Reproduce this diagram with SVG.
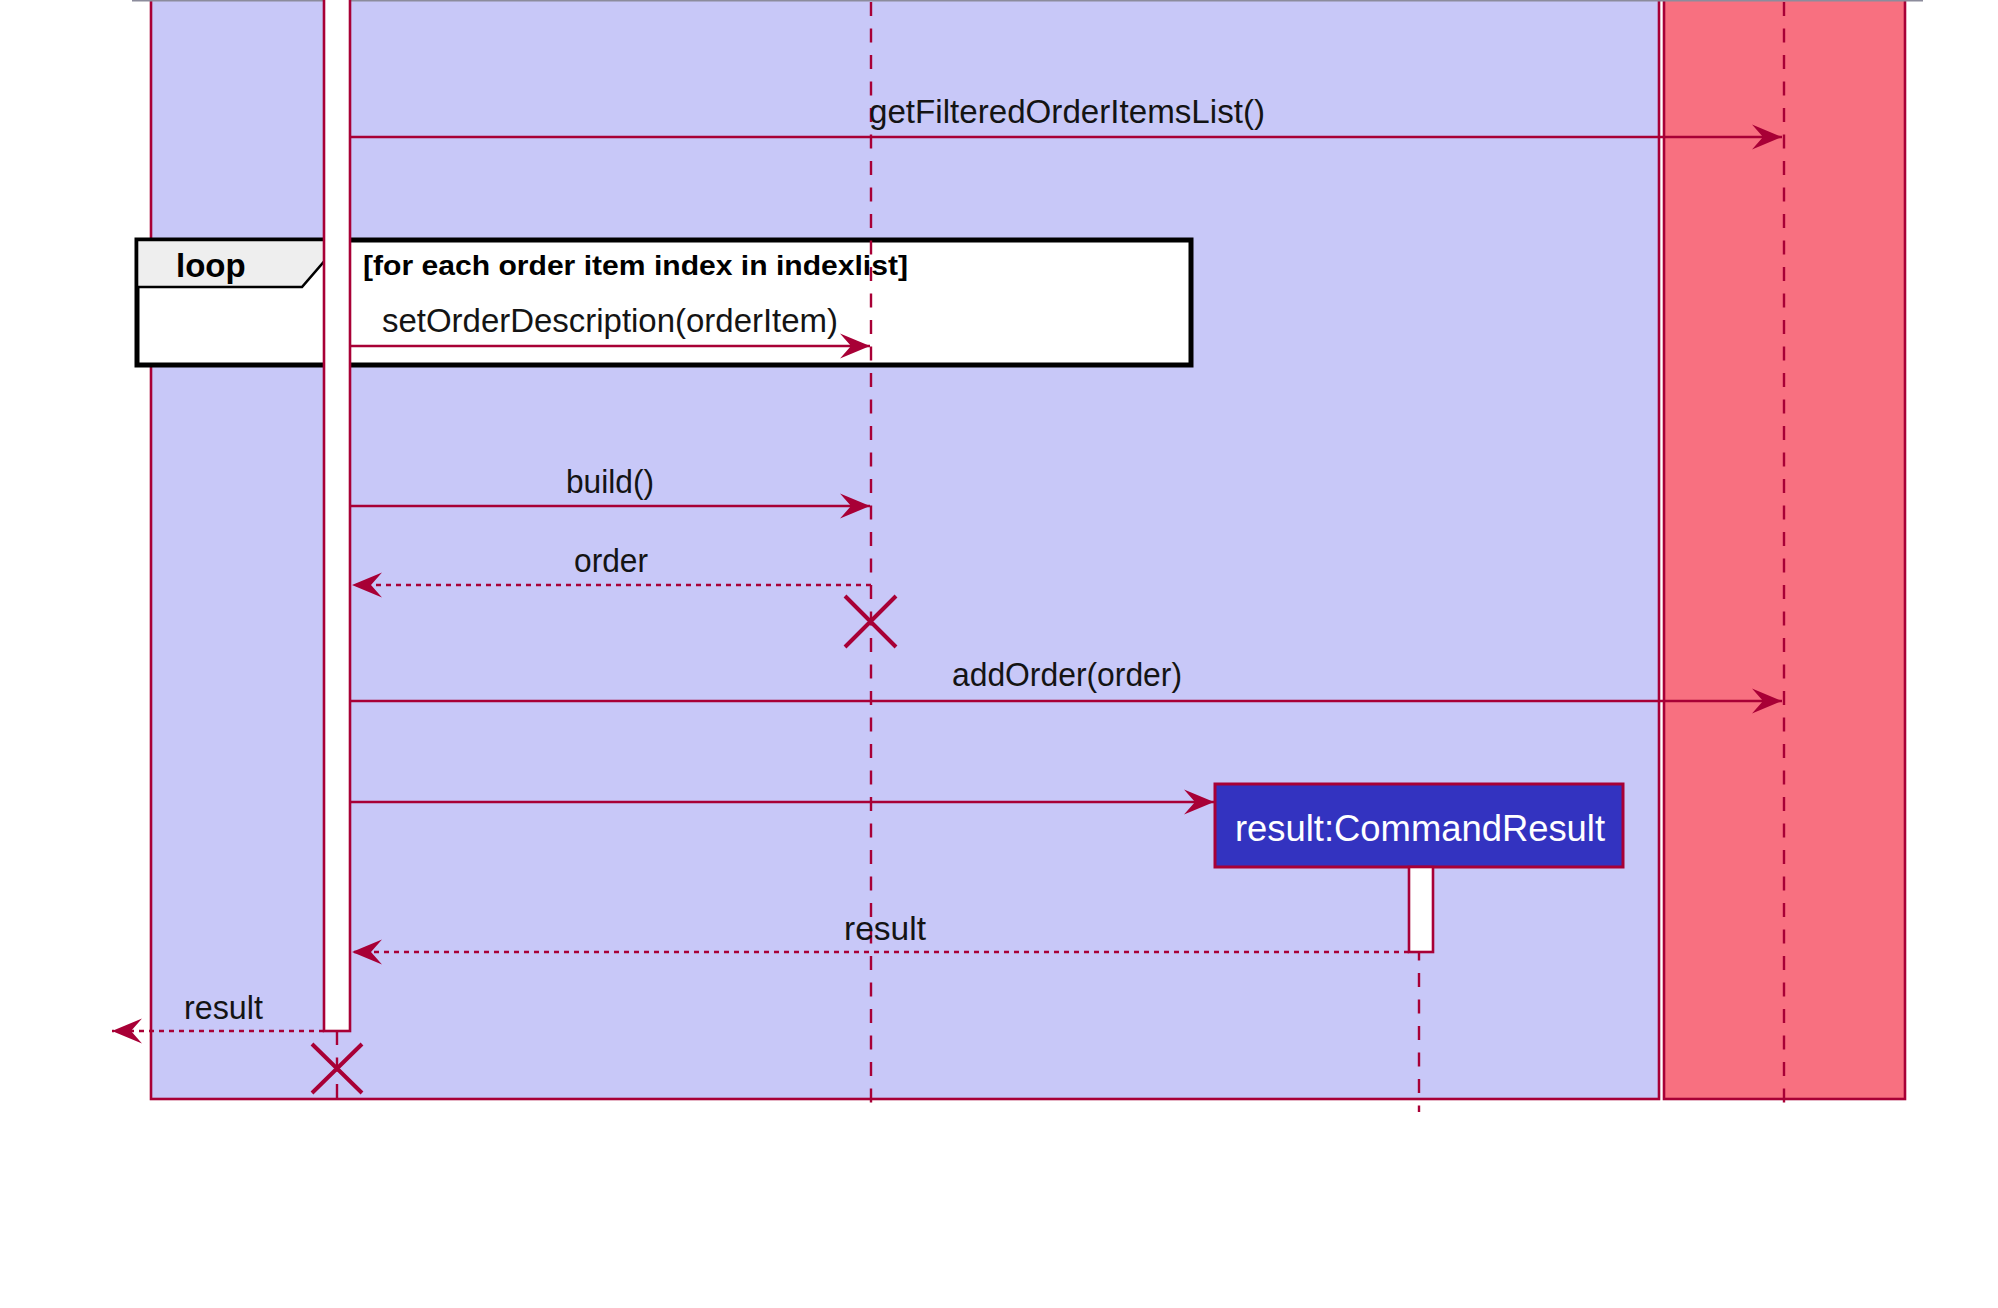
<svg xmlns="http://www.w3.org/2000/svg" width="1998" height="1308" viewBox="0 0 1998 1308">
  <style>
    .msg { font-family: "Liberation Sans", Arial, sans-serif; font-size: 33px; fill: #141414; }
    .bold { font-family: "Liberation Sans", Arial, sans-serif; font-weight: bold; fill: #000; }
    .call { stroke: #A80036; stroke-width: 2.6; fill: none; }
    .ret { stroke: #A80036; stroke-width: 2.6; fill: none; stroke-dasharray: 5 5; }
    .life { stroke: #A80036; stroke-width: 2.4; fill: none; stroke-dasharray: 14 12.5; }
    .act { fill: #FFFFFF; stroke: #A80036; stroke-width: 2.6; }
    .kill { stroke: #A80036; stroke-width: 4; fill: none; }
  </style>
  <defs>
    <marker id="head" markerUnits="userSpaceOnUse" viewBox="-32 -14 34 28" markerWidth="34" markerHeight="28" refX="0" refY="0" orient="auto">
      <path d="M0,0 L-30,-12.5 L-19,0 L-30,12.5 Z" fill="#A80036"/>
    </marker>
  </defs>

  <rect width="1998" height="1308" fill="#FFFFFF"/>

  <!-- grouping boxes -->
  <g id="box-logic">
    <rect x="151" y="-10" width="1508" height="1109" fill="#C8C8F8" stroke="#A80036" stroke-width="2.6"/>
  </g>
  <g id="box-model">
    <rect x="1664" y="-10" width="241" height="1109" fill="#F87080" stroke="#A80036" stroke-width="2.6"/>
  </g>
  <line x1="132" y1="0.5" x2="1923" y2="0.5" stroke="#8C8C9C" stroke-width="2"/>

  <!-- loop fragment -->
  <g id="loop-frame">
    <rect x="137" y="240" width="1054" height="125" fill="#FFFFFF" stroke="#000000" stroke-width="5"/>
    <polygon points="137,240 327,240 327,258 302,287 137,287" fill="#EEEEEE" stroke="#000000" stroke-width="2.6"/>
    <text class="bold" x="176" y="277" font-size="33">loop</text>
    <text class="bold" x="363" y="275" font-size="28" textLength="545" lengthAdjust="spacingAndGlyphs">[for each order item index in indexlist]</text>
  </g>

  <!-- lifelines -->
  <g id="lifelines">
    <line class="life" x1="337" y1="1031" x2="337" y2="1106"/>
    <line class="life" x1="871" y1="2" x2="871" y2="1106"/>
    <line class="life" x1="1419" y1="867" x2="1419" y2="1112"/>
    <line class="life" x1="1784" y1="2" x2="1784" y2="1106"/>
  </g>

  <!-- command participant (activation) -->
  <g id="command">
    <rect class="act" x="324" y="-10" width="26" height="1041"/>
  </g>

  <!-- result:CommandResult participant -->
  <g id="result">
    <rect x="1215" y="784" width="408" height="83" fill="#3333C0" stroke="#A80036" stroke-width="3"/>
    <text x="1235" y="841" textLength="370" lengthAdjust="spacingAndGlyphs" font-family="Liberation Sans, Arial, sans-serif" font-size="36" fill="#FFFFFF">result:CommandResult</text>
    <rect class="act" x="1409" y="867" width="24" height="85"/>
  </g>

  <!-- destruction marks -->
  <g id="order-builder-end">
    <path class="kill" d="M845,596 L896,647 M896,596 L845,647"/>
  </g>
  <g id="command-end">
    <path class="kill" d="M312,1044 L362,1093 M362,1044 L312,1093"/>
  </g>

  <!-- messages -->
  <g id="connectors">
    <line class="call" x1="350" y1="137" x2="1782" y2="137" marker-end="url(#head)"/>
    <line class="call" x1="350" y1="346" x2="870" y2="346" marker-end="url(#head)"/>
    <line class="call" x1="350" y1="506" x2="870" y2="506" marker-end="url(#head)"/>
    <line class="ret" x1="871" y1="585" x2="352" y2="585" marker-end="url(#head)"/>
    <line class="call" x1="350" y1="701" x2="1782" y2="701" marker-end="url(#head)"/>
    <line class="call" x1="350" y1="802" x2="1214" y2="802" marker-end="url(#head)"/>
    <line class="ret" x1="1409" y1="952" x2="352" y2="952" marker-end="url(#head)"/>
    <line class="ret" x1="324" y1="1031" x2="112" y2="1031" marker-end="url(#head)"/>
  </g>

  <!-- message labels -->
  <g id="labels">
    <text class="msg" x="869" y="123" textLength="396" lengthAdjust="spacingAndGlyphs">getFilteredOrderItemsList()</text>
    <text class="msg" x="382" y="332" textLength="456" lengthAdjust="spacingAndGlyphs">setOrderDescription(orderItem)</text>
    <text class="msg" x="566" y="493" textLength="88" lengthAdjust="spacingAndGlyphs">build()</text>
    <text class="msg" x="574" y="572" textLength="74" lengthAdjust="spacingAndGlyphs">order</text>
    <text class="msg" x="952" y="686" textLength="230" lengthAdjust="spacingAndGlyphs">addOrder(order)</text>
    <text class="msg" x="844" y="940" textLength="82" lengthAdjust="spacingAndGlyphs">result</text>
    <text class="msg" x="184" y="1019" textLength="79" lengthAdjust="spacingAndGlyphs">result</text>
  </g>
</svg>
